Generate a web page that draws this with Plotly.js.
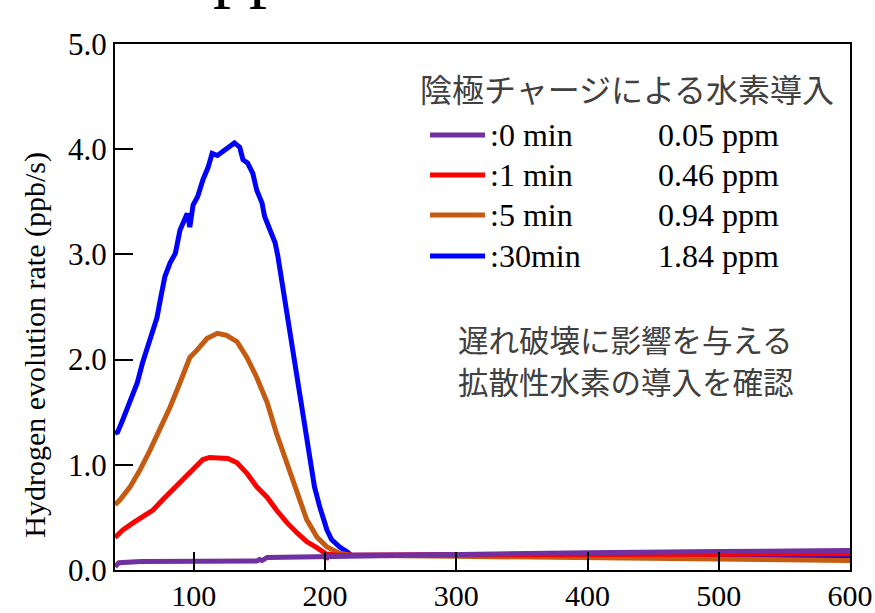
<!DOCTYPE html>
<html>
<head>
<meta charset="utf-8">
<script src="https://cdn.plot.ly/plotly-3.0.1.min.js"></script>
<style>html,body{margin:0;padding:0;background:#fff;}#chart{width:875px;height:613px;}</style>
</head>
<body>
<div id="chart"></div>
<script>
// ---- data ----
const seriesNames = [':0 min', ':1 min', ':5 min', ':30min'];
const ppmLabels = ['0.05 ppm', '0.46 ppm', '0.94 ppm', '1.84 ppm'];
const seriesColors = ['#7030A0', '#FF0000', '#C55A11', '#0000FF'];
const legendTitle = '陰極チャージによる水素導入';
const noteLines = ['遅れ破壊に影響を与える', '拡散性水素の導入を確認'];
const yTitle = 'Hydrogen evolution rate (ppb/s)';
const xTicks = [100, 200, 300, 400, 500, 600];
const yTicks = [0, 1, 2, 3, 4, 5];
const yTickText = ['0.0', '1.0', '2.0', '3.0', '4.0', '5.0'];

const x0min = [40, 43, 60, 100, 140, 148, 150, 152, 156, 200, 300, 400, 500, 600];
const y0min = [0.03, 0.07, 0.08, 0.08, 0.08, 0.085, 0.10, 0.09, 0.12, 0.13, 0.15, 0.165, 0.175, 0.185];

const x1min = [40, 46, 54, 61, 69, 76.5, 84, 92, 99.5, 107, 112, 120, 126, 133, 140.5, 148, 156, 163, 171, 179, 186, 194, 198, 200, 201, 203, 210, 220, 300, 400, 500, 600];
const y1min = [0.31, 0.38, 0.45, 0.50, 0.57, 0.67, 0.76, 0.87, 0.95, 1.05, 1.07, 1.06, 1.06, 1.02, 0.92, 0.79, 0.69, 0.57, 0.45, 0.35, 0.27, 0.21, 0.17, 0.16, 0.10, 0.15, 0.14, 0.14, 0.145, 0.15, 0.15, 0.155];

const x5min = [40, 44, 51.5, 59, 66.7, 74, 82, 89.5, 97, 102.5, 110, 118, 125, 133, 140.5, 148, 156, 163, 171, 179, 186, 194, 201.5, 211, 220, 300, 400, 500, 600];
const y5min = [0.62, 0.67, 0.79, 0.95, 1.14, 1.33, 1.55, 1.78, 2.02, 2.09, 2.20, 2.25, 2.23, 2.17, 2.02, 1.83, 1.59, 1.30, 1.02, 0.73, 0.48, 0.31, 0.22, 0.16, 0.14, 0.13, 0.12, 0.105, 0.09];

const x30min = [40, 42, 46, 51, 57, 61, 67, 72, 75, 78, 82, 86, 89.5, 95, 97, 99.5, 103, 107, 111, 114, 118, 124, 131, 135, 137.5, 141, 145, 148, 152, 154, 158, 162, 164, 167, 169.5, 172, 175.6, 179, 183, 186, 188.6, 192, 196, 201.5, 205, 211, 217, 220, 300, 400, 500, 600];
const y30min = [1.30, 1.31, 1.43, 1.59, 1.78, 1.97, 2.19, 2.40, 2.60, 2.79, 2.92, 3.01, 3.23, 3.39, 3.26, 3.47, 3.55, 3.71, 3.83, 3.96, 3.94, 3.99, 4.06, 4.02, 3.90, 3.87, 3.77, 3.61, 3.49, 3.36, 3.23, 3.11, 2.99, 2.76, 2.54, 2.35, 2.12, 1.81, 1.55, 1.26, 1.05, 0.79, 0.60, 0.38, 0.29, 0.22, 0.17, 0.14, 0.145, 0.14, 0.135, 0.13];

// ---- build ----
const xs = [x0min, x1min, x5min, x30min];
const ys = [y0min, y1min, y5min, y30min];
const drawOrder = [3, 2, 1, 0];
const traces = drawOrder.map(i => ({
  x: xs[i], y: ys[i], type: 'scatter', mode: 'lines',
  name: seriesNames[i], showlegend: false,
  line: {color: seriesColors[i], width: 5}
}));

const serif = 'Liberation Serif, Times New Roman, serif';
const cjk = 'Noto Sans CJK JP, sans-serif';
const rowY = [0.827, 0.751, 0.675, 0.597];
const noteY = [0.439, 0.359];

const shapes = seriesNames.map((n, i) => ({
  type: 'line', xref: 'paper', yref: 'paper',
  x0: 0.4286, x1: 0.5034, y0: rowY[i], y1: rowY[i],
  line: {color: seriesColors[i], width: 5}
}));

const annotations = [];
seriesNames.forEach((n, i) => {
  annotations.push({xref: 'paper', yref: 'paper', x: 0.507, y: rowY[i], xanchor: 'left', yanchor: 'middle',
    text: n, showarrow: false, font: {family: serif, size: 32, color: '#000'}});
  annotations.push({xref: 'paper', yref: 'paper', x: 0.736, y: rowY[i], xanchor: 'left', yanchor: 'middle',
    text: ppmLabels[i], showarrow: false, font: {family: serif, size: 32, color: '#000'}});
});
annotations.push({xref: 'paper', yref: 'paper', x: 0.697, y: 0.916, xanchor: 'center', yanchor: 'middle',
  text: legendTitle, showarrow: false, font: {family: cjk, size: 32, color: '#404040'}});
noteLines.forEach((t, i) => {
  annotations.push({xref: 'paper', yref: 'paper', x: 0.695, y: noteY[i], xanchor: 'center', yanchor: 'middle',
    text: t, showarrow: false, borderpad: 0, font: {family: cjk, size: 30.5, color: '#404040'}});
});
// y-axis title
annotations.push({xref: 'paper', yref: 'paper', x: -0.109, y: 0.428, xanchor: 'center', yanchor: 'middle',
  text: yTitle, textangle: -90, showarrow: false, font: {family: serif, size: 30, color: '#000'}});
// cut-off remnant of a title above the frame
annotations.push({xref: 'paper', yref: 'paper', x: 0.130, y: 1.061, xanchor: 'left', yanchor: 'bottom',
  text: 'pp', showarrow: false, font: {family: serif, size: 72, color: '#000'}});

const layout = {
  width: 875, height: 613,
  margin: {l: 115, r: 25, t: 44, b: 43, pad: 0},
  paper_bgcolor: '#fff', plot_bgcolor: '#fff',
  font: {family: serif, color: '#000'},
  xaxis: {
    range: [40, 600], tickvals: xTicks, ticks: 'inside', ticklen: 18, tickwidth: 2, tickcolor: '#000',
    showline: true, linecolor: '#000', linewidth: 2, mirror: true, showgrid: false, zeroline: false,
    tickfont: {family: serif, size: 30, color: '#000'}, ticklabelstandoff: -2
  },
  yaxis: {
    range: [0, 5], tickvals: yTicks, ticktext: yTickText, ticks: 'inside', ticklen: 18, tickwidth: 2, tickcolor: '#000',
    showline: true, linecolor: '#000', linewidth: 2, mirror: true, showgrid: false, zeroline: false,
    tickfont: {family: serif, size: 31, color: '#000'}
  },
  shapes: shapes,
  annotations: annotations
};

Plotly.newPlot('chart', traces, layout, {displayModeBar: false, staticPlot: true});
</script>
</body>
</html>
